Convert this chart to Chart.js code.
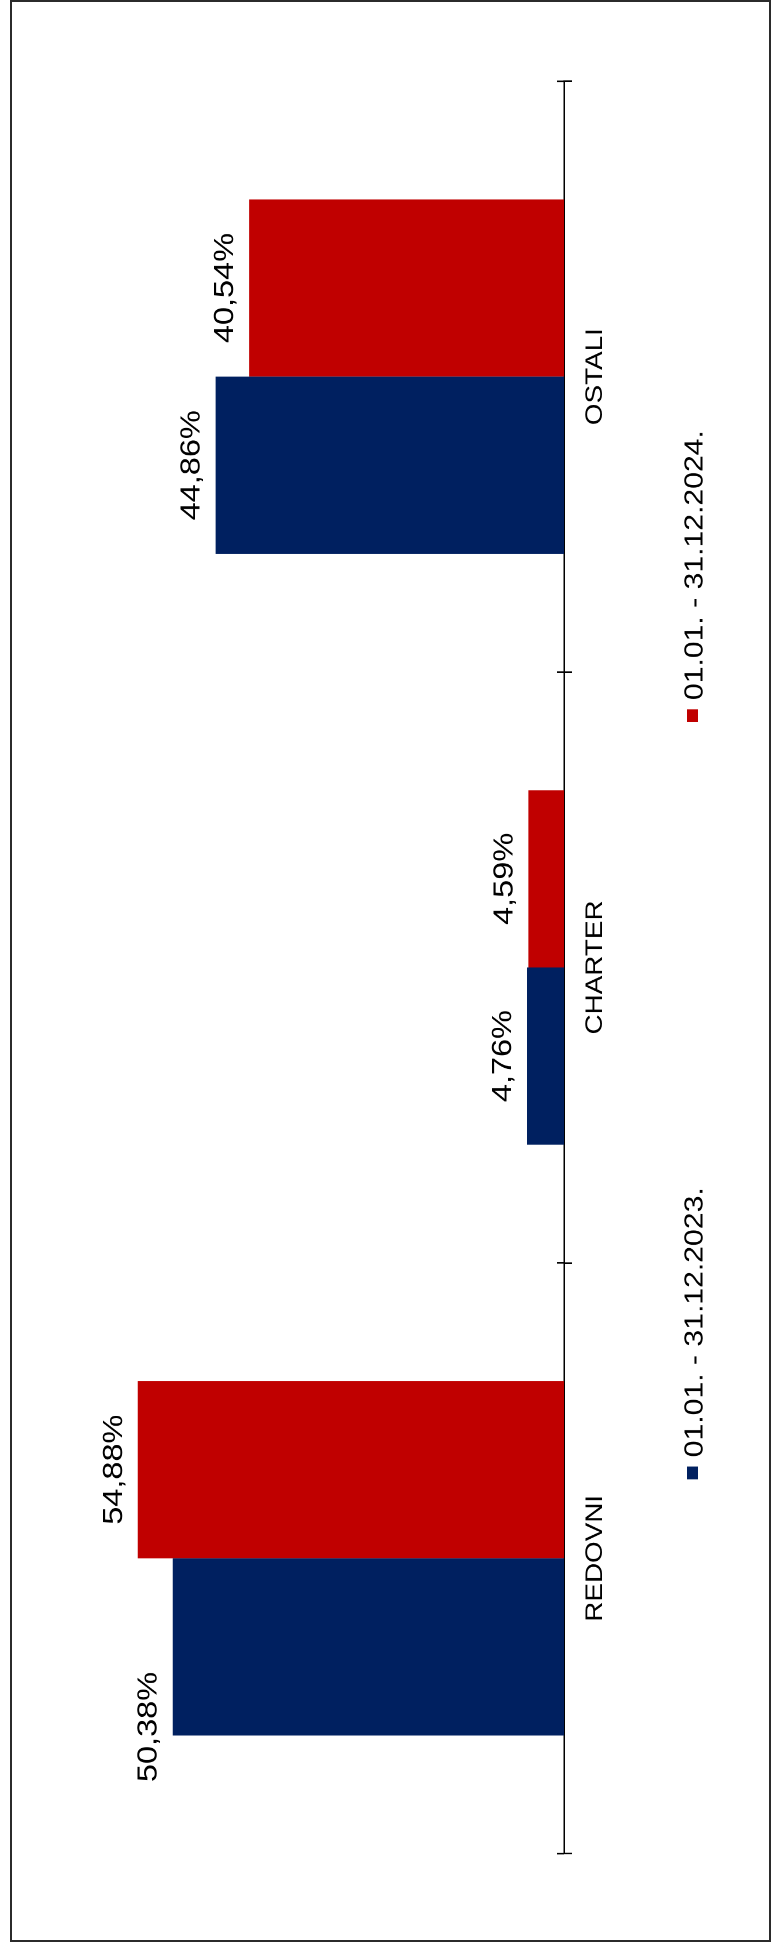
<!DOCTYPE html>
<html>
<head>
<meta charset="utf-8">
<script src="https://cdn.jsdelivr.net/npm/chart.js@4.4.1/dist/chart.umd.min.js"></script>
<style>
  html, body { margin: 0; padding: 0; background: #fff; width: 774px; height: 1950px; overflow: hidden; }
  #frame { position: absolute; left: 10px; top: 0px; width: 757px; height: 1938px; border: 2px solid #2b2b2b; }
  #wrap { position: absolute; left: 0; top: 0; width: 1681px; height: 774px;
          transform-origin: 0 0; transform: translateY(1950px) rotate(-90deg) scaleX(1.16); }
</style>
</head>
<body>
<div id="frame"></div>
<div id="wrap"><canvas id="c" width="1681" height="774"></canvas></div>
<script>
// ---- data ----
const categories = ['REDOVNI', 'CHARTER', 'OSTALI'];
const seriesLabels = ['01.01. - 31.12.2023.', '01.01. - 31.12.2024.'];
const values2023 = [50.38, 4.76, 44.86];
const values2024 = [54.88, 4.59, 40.54];

// ---- styling / layout ----
const FONT = '"Liberation Sans", Arial, sans-serif';
const COLORS = ['#002060', '#C00000'];
const labelShift = [[-69, 0, 0], [0, 0, 0]];   // manual nudge of a data label (as in original)
const fmt = v => v.toFixed(2).replace('.', ',') + '%';

const tickCross = {
  id: 'tickCross',
  afterDraw(chart) {
    const xs = chart.scales.x, ctx = chart.ctx, ca = chart.chartArea;
    const n = xs.ticks.length;
    const step = n > 1 ? xs.getPixelForTick(1) - xs.getPixelForTick(0) : ca.right - ca.left;
    ctx.save();
    ctx.strokeStyle = '#000';
    ctx.lineWidth = 1.3;
    for (let i = 0; i <= n; i++) {
      const x = xs.getPixelForTick(0) - step / 2 + i * step;
      ctx.beginPath();
      ctx.moveTo(x, ca.bottom - 7);
      ctx.lineTo(x, ca.bottom);
      ctx.stroke();
    }
    ctx.restore();
  }
};

const valueLabels = {
  id: 'valueLabels',
  afterDatasetsDraw(chart) {
    const ctx = chart.ctx;
    ctx.save();
    ctx.font = '28px ' + FONT;
    ctx.fillStyle = '#000';
    ctx.textAlign = 'center';
    ctx.textBaseline = 'alphabetic';
    chart.data.datasets.forEach((ds, di) => {
      chart.getDatasetMeta(di).data.forEach((bar, i) => {
        ctx.fillText(fmt(ds.data[i]), bar.x + labelShift[di][i], bar.y - 16);
      });
    });
    ctx.restore();
  }
};

const bottomLegend = {
  id: 'bottomLegend',
  afterDraw(chart) {
    const ctx = chart.ctx, ca = chart.chartArea;
    ctx.save();
    ctx.font = '26px ' + FONT;
    const box = 11, gapBoxText = 8, itemGap = 401;
    const widths = chart.data.datasets.map(d => box + gapBoxText + ctx.measureText(d.label).width);
    const total = widths.reduce((a, b) => a + b, 0) + itemGap * (widths.length - 1);
    let x = (ca.left + ca.right) / 2 + 11 - total / 2;
    const cy = 692.5;
    ctx.textBaseline = 'middle';
    ctx.textAlign = 'left';
    chart.data.datasets.forEach((d, i) => {
      ctx.fillStyle = d.backgroundColor;
      ctx.fillRect(x, cy - box / 2, box, box);
      ctx.fillStyle = '#000';
      ctx.fillText(d.label, x + box + gapBoxText, cy + 3);
      x += widths[i] + itemGap;
    });
    ctx.restore();
  }
};

new Chart(document.getElementById('c'), {
  type: 'bar',
  data: {
    labels: categories,
    datasets: [
      { label: seriesLabels[0], data: values2023, backgroundColor: COLORS[0], borderWidth: 0 },
      { label: seriesLabels[1], data: values2024, backgroundColor: COLORS[1], borderWidth: 0 }
    ]
  },
  options: {
    responsive: false,
    animation: false,
    devicePixelRatio: 2,
    datasets: { bar: { categoryPercentage: 0.6, barPercentage: 1.0 } },
    layout: { padding: { left: 83, right: 70, top: 98, bottom: 150 } },
    scales: {
      x: {
        position: 'bottom',
        offset: true,
        grid: { display: true, offset: true, drawOnChartArea: false, drawTicks: true, tickLength: 8, color: '#000', lineWidth: 1.3 },
        border: { display: true, color: '#000', width: 1.5 },
        ticks: { color: '#000', font: { family: FONT, size: 24 }, padding: 9, maxRotation: 0, autoSkip: false },
        afterFit(s) { s.height = 60; }
      },
      y: { display: false, min: 0, max: 60 }
    },
    plugins: { legend: { display: false }, tooltip: { enabled: false } }
  },
  plugins: [tickCross, valueLabels, bottomLegend]
});
</script>
</body>
</html>
